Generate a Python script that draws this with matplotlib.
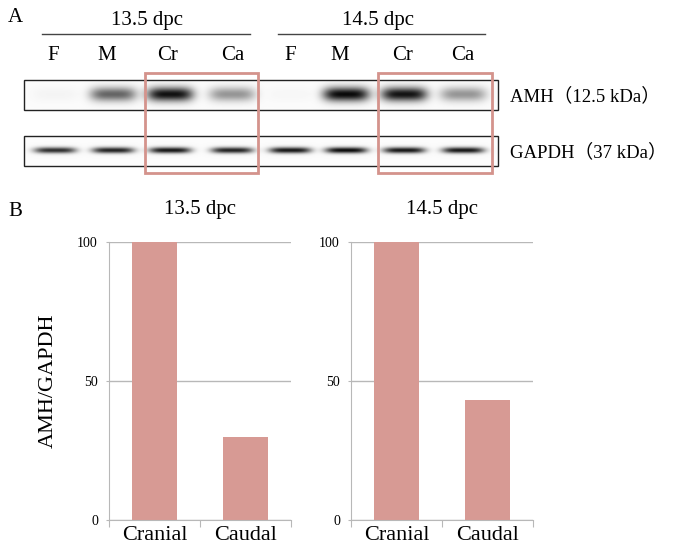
import numpy as np
import matplotlib
matplotlib.use("Agg")
import matplotlib.pyplot as plt
from matplotlib.patches import Rectangle

plt.rcParams['font.family'] = ['Liberation Serif', 'Noto Sans CJK JP', 'DejaVu Sans']

# ---- data ----
stages = ["13.5 dpc", "14.5 dpc"]
lanes = ["F", "M", "Cr", "Ca"]
amh_band = {"13.5 dpc": [0.03, 0.62, 0.97, 0.42], "14.5 dpc": [0.02, 1.0, 0.96, 0.42]}
gapdh_band = {"13.5 dpc": [0.85, 0.9, 0.95, 0.9], "14.5 dpc": [0.95, 1.0, 0.95, 0.95]}
blot_labels = ["AMH（12.5 kDa）", "GAPDH（37 kDa）"]
regions = ["Cranial", "Caudal"]
ratio = {"13.5 dpc": [100, 30], "14.5 dpc": [100, 43]}
yticks = [0, 50, 100]

BAR = "#d79a94"
BOX = "#d4938c"
GRID = "#b8b8b8"

W, H = 673, 555
fig = plt.figure(figsize=(W / 100, H / 100), dpi=100)

# ---- panel A (pixel-space layout) ----
ax0 = fig.add_axes([0, 0, 1, 1])
ax0.set_xlim(0, W); ax0.set_ylim(H, 0); ax0.axis("off")

lane_x = [55, 113, 170, 232, 290, 346, 404, 463]
label_x = [53, 107, 168, 233, 290, 340, 403, 463]
strip_x0, strip_x1 = 24, 498

def strip(y0, y1, vals, yc, hw, hh):
    xs = np.arange(strip_x0, strip_x1, 0.5)
    ys = np.arange(y0, y1, 0.5)
    X, Y = np.meshgrid(xs, ys)
    img = np.zeros_like(X)
    for xc, v in zip(lane_x, vals):
        img += v * np.exp(-np.abs((X - xc) / hw) ** 4) * np.exp(-((Y - yc) / hh) ** 2)
    img = np.clip(img, 0, 1)
    ax0.imshow(0.985 - 0.95 * img, cmap="gray", vmin=0, vmax=1, extent=[strip_x0, strip_x1, y1, y0],
               aspect="auto", interpolation="bilinear", zorder=1)
    ax0.add_patch(Rectangle((strip_x0, y0), strip_x1 - strip_x0, y1 - y0, fill=False,
                            ec="#222222", lw=1.0, zorder=2))

amh_vals = amh_band[stages[0]] + amh_band[stages[1]]
gapdh_vals = gapdh_band[stages[0]] + gapdh_band[stages[1]]
strip(80, 110, amh_vals, 94, 23, 7)
strip(136, 166, gapdh_vals, 150, 21, 3.0)

for s, (cx, lx0, lx1) in zip(stages, [(147, 42, 250), (378, 278, 485)]):
    ax0.text(cx, 20, s, ha="center", va="center", fontsize=15)
    ax0.plot([lx0, lx1], [34, 34], color="#444444", lw=1)
for x, t in zip(label_x, lanes * 2):
    ax0.text(x, 56, t, ha="center", va="center", fontsize=15)

for bx0, bx1 in [(145, 258), (378, 492)]:
    ax0.add_patch(Rectangle((bx0, 73), bx1 - bx0, 100, fill=False, ec=BOX, lw=2, zorder=3))

for t, y in zip(blot_labels, [96, 152]):
    ax0.text(510, y, t, ha="left", va="center", fontsize=13.5)
ax0.text(8, 17, "A", ha="left", va="center", fontsize=15)
ax0.text(8, 211, "B", ha="left", va="center", fontsize=15)

# ---- panel B ----
for i, (s, left) in enumerate(zip(stages, [109, 351])):
    ax = fig.add_axes([left / W, (H - 520) / H, 182 / W, 278.3 / H])
    ax.bar(range(len(regions)), ratio[s], width=0.49, color=BAR, zorder=2)
    ax.set_xlim(-0.5, 1.5); ax.set_ylim(0, 100)
    ax.set_yticks(yticks)
    ax.set_yticklabels([str(v) for v in yticks], fontsize=10)
    ax.yaxis.grid(True, color=GRID, lw=1, zorder=0)
    ax.set_xticks([-0.5, 0.5, 1.5], minor=False)
    ax.set_xticklabels([])
    ax.set_xticks([0, 1], minor=True)
    ax.set_xticklabels(regions, minor=True, fontsize=16)
    ax.tick_params(axis="x", which="major", length=5, color=GRID, direction="out")
    ax.tick_params(axis="x", which="minor", length=0, pad=4)
    ax.tick_params(axis="y", length=2, color=GRID, pad=6)
    for side in ["top", "right"]:
        ax.spines[side].set_visible(False)
    for side in ["left", "bottom"]:
        ax.spines[side].set_color(GRID)
    ax.set_title(s, fontsize=15, pad=20)
    if i == 0:
        ax.set_ylabel("AMH/GAPDH", fontsize=16, labelpad=14)

fig.savefig("out.png", dpi=100)
